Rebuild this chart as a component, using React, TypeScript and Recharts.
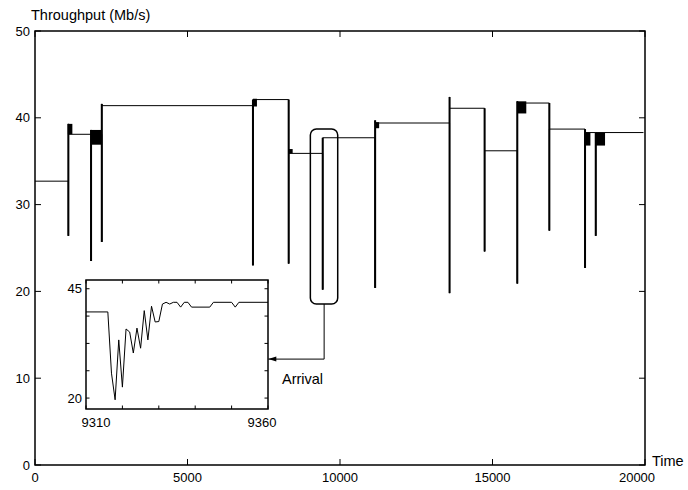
import React from "react";
import { LineChart, Line, XAxis, YAxis, ReferenceArea, ReferenceLine } from "recharts";

// main trace: times where the throughput level changes
const changeTimes = [1094, 1838, 2190, 7146, 8317, 9433, 11152, 13592, 14741, 15813, 16864, 18034, 18385];
// lowest value of the dip at each change
const dipLows = [26.4, 23.5, 25.7, 23.0, 23.2, 20.2, 20.4, 19.8, 24.6, 20.9, 27.0, 22.7, 26.4];
// top of the recovery right after the dip
const dipPeaks = [39.3, 38.6, 41.6, 42.1, 36.4, 37.7, 39.7, 42.4, 36.2, 41.9, 38.7, 38.3, 38.3];
// level held before the first change, then after each change
const levels = [32.7, 38.1, 38.1, 41.4, 42.1, 35.9, 37.7, 39.4, 41.1, 36.2, 41.7, 38.7, 38.3, 38.3];
const endTime = 19950;

// short oscillation bursts (drawn solid at this scale)
const burstStart = [1094, 1838, 7146, 8317, 11152, 15813, 18034, 18385];
const burstEnd = [1225, 2190, 7277, 8448, 11283, 16108, 18210, 18690];
const burstLow = [38.1, 36.9, 41.3, 35.9, 38.8, 40.5, 36.8, 36.8];
const burstHigh = [39.3, 38.6, 42.2, 36.4, 39.5, 41.9, 38.3, 38.3];

const xTicks = [0, 5000, 10000, 15000, 20000];
const yTicks = [0, 10, 20, 30, 40, 50];

// inset: zoom on the arrival around t = 9310..9360
const insetTime = [9310, 9316, 9317, 9318, 9319, 9320, 9321, 9322, 9323, 9324, 9325, 9326, 9327, 9328, 9329, 9330, 9331, 9332, 9333, 9334, 9335, 9336, 9337, 9338, 9339, 9344, 9345, 9350, 9351, 9352, 9360];
const insetValue = [39.7, 39.7, 25.7, 19.6, 33.3, 22.5, 35.8, 35.1, 30.3, 36.0, 31.4, 40.0, 33.3, 41.0, 37.4, 37.5, 41.5, 41.9, 41.5, 41.9, 41.9, 40.8, 41.9, 41.9, 40.8, 40.8, 41.9, 41.9, 40.8, 41.9, 41.9];
const insetXTicks = [9310, 9320, 9330, 9340, 9350, 9360];
const insetYTicks = [20, 26.25, 32.5, 38.75, 45];
const insetLabeledY = [20, 45];
const insetLabeledX = [9310, 9360];

const traceData: { t: number; v: number }[] = [{ t: 0, v: levels[0] }];
changeTimes.forEach((t, i) => {
  traceData.push({ t, v: levels[i] }, { t, v: dipLows[i] }, { t, v: dipPeaks[i] }, { t, v: levels[i + 1] });
});
traceData.push({ t: endTime, v: levels[levels.length - 1] });

const insetData = insetTime.map((t, i) => ({ t, v: insetValue[i] }));

const FONT = "'Liberation Sans', Arial, sans-serif";

// plot box of the main chart (pixels inside its svg)
const MAIN = { left: 35, right: 645, top: 31, bottom: 465 };
// plot box of the inset (pixels inside its own svg)
const INSET = { left: 30, right: 212, top: 10, bottom: 139 };

function MainXTick(p: any) {
  const { x, y, payload, index } = p;
  const shift = index === xTicks.length - 1 ? -8 : 0;
  return (
    <g>
      <line x1={x} x2={x} y1={MAIN.bottom} y2={MAIN.bottom - 6} stroke="#000" />
      <line x1={x} x2={x} y1={MAIN.top} y2={MAIN.top + 6} stroke="#000" />
      <text x={x + shift} y={y} dy="0.71em" textAnchor="middle" fontSize={13} fontFamily={FONT} fill="#000">
        {payload.value}
      </text>
    </g>
  );
}

function MainYTick(p: any) {
  const { x, y, payload } = p;
  return (
    <g>
      <line x1={MAIN.left} x2={MAIN.left + 6} y1={y} y2={y} stroke="#000" />
      <line x1={MAIN.right - 6} x2={MAIN.right} y1={y} y2={y} stroke="#000" />
      <text x={x} y={y} dy="0.35em" textAnchor="end" fontSize={13} fontFamily={FONT} fill="#000">
        {payload.value}
      </text>
    </g>
  );
}

function InsetXTick(p: any) {
  const { x, y, payload, index } = p;
  const shift = index === 0 ? 10 : index === insetXTicks.length - 1 ? -6 : 0;
  return (
    <g>
      <line x1={x} x2={x} y1={INSET.bottom} y2={INSET.bottom - 3.5} stroke="#000" />
      <line x1={x} x2={x} y1={INSET.top} y2={INSET.top + 3.5} stroke="#000" />
      {insetLabeledX.includes(payload.value) && (
        <text x={x + shift} y={y} dy="0.71em" textAnchor="middle" fontSize={13} fontFamily={FONT} fill="#000">
          {payload.value}
        </text>
      )}
    </g>
  );
}

function InsetYTick(p: any) {
  const { x, y, payload } = p;
  return (
    <g>
      <line x1={INSET.left} x2={INSET.left + 3.5} y1={y} y2={y} stroke="#000" />
      <line x1={INSET.right - 3.5} x2={INSET.right} y1={y} y2={y} stroke="#000" />
      {insetLabeledY.includes(payload.value) && (
        <text x={x} y={y} dy="0.35em" textAnchor="end" fontSize={13} fontFamily={FONT} fill="#000">
          {payload.value}
        </text>
      )}
    </g>
  );
}

function ArrowSeg(p: any) {
  const { x1, y1, x2, y2 } = p;
  return (
    <g>
      <line x1={x1} y1={y1} x2={x2} y2={y2} stroke="#000" strokeWidth={1} />
      <polygon points={`${x2},${y2} ${x2 + 8},${y2 - 2.5} ${x2 + 8},${y2 + 2.5}`} fill="#000" />
    </g>
  );
}

function RoundBox(p: any) {
  return <rect x={p.x} y={p.y} width={p.width} height={p.height} rx={6} ry={6} fill="none" stroke="#000" strokeWidth={1.5} />;
}

const textStyle: React.CSSProperties = {
  position: "absolute",
  fontFamily: FONT,
  fontSize: 14.5,
  lineHeight: "16px",
  color: "#000",
  whiteSpace: "nowrap",
};

export default function App() {
  return (
    <div style={{ position: "absolute", left: 0, top: 0, width: 688, height: 490, background: "#fff" }}>
      <div style={{ position: "absolute", left: 0, top: 0 }}>
        <LineChart width={688} height={490} data={traceData} margin={{ top: 31, right: 43, bottom: 0, left: 0 }}>
          <XAxis
            dataKey="t"
            type="number"
            domain={[0, 20000]}
            ticks={xTicks}
            interval={0}
            height={25}
            axisLine={false}
            tickLine={false}
            tickSize={0}
            tickMargin={8}
            tick={(p) => <MainXTick {...p} />}
          />
          <YAxis
            type="number"
            domain={[0, 50]}
            ticks={yTicks}
            interval={0}
            width={35}
            axisLine={false}
            tickLine={false}
            tickSize={0}
            tickMargin={5}
            tick={(p) => <MainYTick {...p} />}
          />
          {burstStart.map((s, i) => (
            <ReferenceArea key={`b${i}`} x1={s} x2={burstEnd[i]} y1={burstLow[i]} y2={burstHigh[i]} fill="#000" fillOpacity={1} stroke="none" />
          ))}
          {/* the dips are drawn heavier, as in the original trace */}
          {changeTimes.map((t, i) => (
            <ReferenceLine
              key={`d${i}`}
              segment={[{ x: t, y: dipLows[i] }, { x: t, y: Math.max(levels[i], dipPeaks[i]) }]}
              stroke="#000"
              strokeWidth={2}
            />
          ))}
          <Line type="linear" dataKey="v" stroke="#000" strokeWidth={1} dot={false} isAnimationActive={false} />
          <ReferenceArea x1={9028} x2={9925} y1={18.55} y2={38.7} shape={(p) => <RoundBox {...p} />} />
          <ReferenceLine segment={[{ x: 9480, y: 18.55 }, { x: 9480, y: 12.2 }]} stroke="#000" strokeWidth={1} />
          <ReferenceLine segment={[{ x: 9480, y: 12.2 }, { x: 7650, y: 12.2 }]} shape={(p) => <ArrowSeg {...p} />} />
          <ReferenceArea x1={0} x2={20000} y1={0} y2={50} fill="none" stroke="#000" strokeWidth={1.5} ifOverflow="visible" />
        </LineChart>
      </div>
      <div style={{ position: "absolute", left: 56, top: 270 }}>
        <LineChart width={232} height={164} data={insetData} margin={{ top: 10, right: 20, bottom: 0, left: 0 }}>
          <XAxis
            dataKey="t"
            type="number"
            domain={[9310, 9360]}
            ticks={insetXTicks}
            interval={0}
            height={25}
            axisLine={false}
            tickLine={false}
            tickSize={0}
            tickMargin={9}
            tick={(p) => <InsetXTick {...p} />}
          />
          <YAxis
            type="number"
            domain={[17.5, 47]}
            ticks={insetYTicks}
            interval={0}
            width={30}
            axisLine={false}
            tickLine={false}
            tickSize={0}
            tickMargin={4}
            tick={(p) => <InsetYTick {...p} />}
          />
          <Line type="linear" dataKey="v" stroke="#000" strokeWidth={1} dot={false} isAnimationActive={false} />
          <ReferenceArea x1={9310} x2={9360} y1={17.5} y2={47} fill="none" stroke="#000" strokeWidth={1.5} ifOverflow="visible" />
        </LineChart>
      </div>
      <div style={{ ...textStyle, left: 31, top: 7 }}>Throughput (Mb/s)</div>
      <div style={{ ...textStyle, left: 652, top: 453 }}>Time</div>
      <div style={{ ...textStyle, left: 282, top: 371 }}>Arrival</div>
    </div>
  );
}
